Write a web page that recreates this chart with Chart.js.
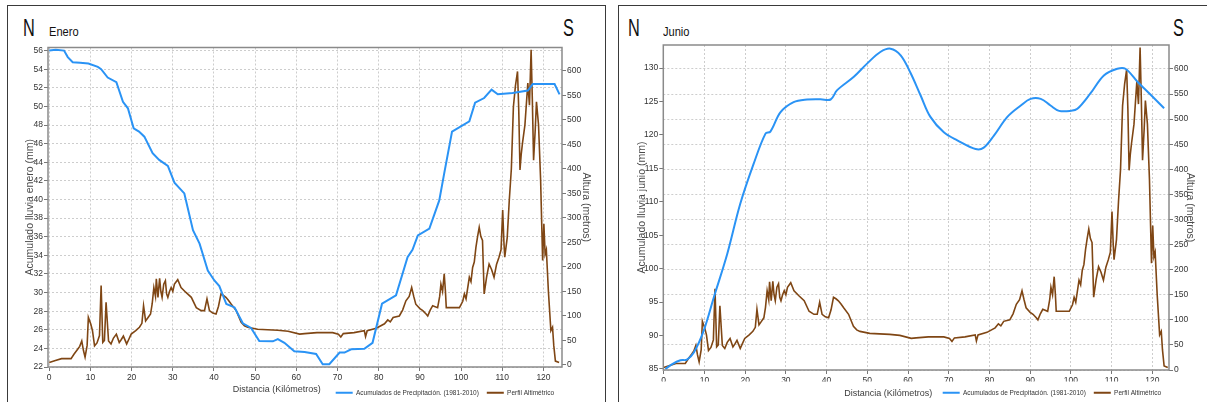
<!DOCTYPE html>
<html>
<head>
<meta charset="utf-8">
<script src="https://cdn.jsdelivr.net/npm/chart.js@4.4.2/dist/chart.umd.min.js"></script>
<style>
  body { margin: 0; width: 1207px; height: 407px; background: #fff; position: relative; overflow: hidden;
         font-family: 'Liberation Sans', Arial, sans-serif; }
  .panel { position: absolute; top: 5px; height: 396px; border: 1.5px solid #3a3a3a; border-bottom: none; }
  .lbl { position: absolute; color: #111; white-space: nowrap; transform-origin: 0 0; }
  .big { font-size: 24px; line-height: 24px; top: 16px; transform: scaleX(0.68); }
  .name { font-size: 13.5px; line-height: 14px; top: 25px; transform: scaleX(0.82); }
  canvas { position: absolute; top: 6px; }
</style>
</head>
<body>
<div class="panel" style="left:7px;width:597px"></div>
<div class="panel" style="left:618px;width:600px"></div>

<span class="lbl big" style="left:23px">N</span>
<span class="lbl name" style="left:49px">Enero</span>
<span class="lbl big" style="left:563px">S</span>

<span class="lbl big" style="left:628px">N</span>
<span class="lbl name" style="left:663px">Junio</span>
<span class="lbl big" style="left:1173px">S</span>

<canvas id="enero" width="596" height="400" style="left:8px"></canvas>
<canvas id="junio" width="588" height="400" style="left:619px"></canvas>

<script>
// perfil altimétrico (km, metros) - same route in both panels
const altKm = [0, 1.5, 3, 5.3, 6, 6.9, 7.4, 7.9, 8.3, 8.7, 9.2, 9.5, 10.1, 10.5, 11, 11.6, 12.2, 12.6, 13, 13.4,
  13.8, 14.4, 15, 15.6, 16.3, 17, 17.5, 18, 18.8, 19.3, 19.9, 21, 21.9, 22.5, 22.9, 23.4, 24, 24.6, 25, 25.4,
  25.8, 26, 26.4, 26.8, 27.1, 27.4, 27.8, 28.2, 28.5, 28.8, 29.2, 29.6, 30, 30.4, 31.2, 32, 33.2, 34.5, 35.7, 36.9,
  37.7, 38.3, 38.9, 39.7, 40.5, 41.1, 41.7, 42.3, 42.9, 43.5, 44.2, 45.4, 46.6, 47.4, 48.2, 50.6, 53, 55.5, 58, 60.8,
  62, 65, 68.8, 70.2, 70.8, 71.4, 74, 76.5, 76.8, 77.2, 79.4, 81.4, 82.2, 82.8, 83.5, 85, 85.8, 86.6, 87.4, 88,
  88.5, 89, 90, 90.7, 91.5, 91.9, 92.5, 93.1, 94.3, 94.8, 95.1, 95.5, 95.9, 96.2, 96.4, 99.6, 100.4, 100.8, 101.2, 102,
  102.4, 102.8, 103.2, 103.6, 104, 104.4, 104.8, 105.2, 105.6, 106.2, 106.8, 107.4, 108, 108.6, 109.2, 109.7, 110.1, 110.4, 110.6, 111.2,
  111.7, 112.2, 112.7, 113.2, 113.7, 114, 114.3, 114.6, 114.9, 115.5, 116.2, 116.6, 117, 117.3, 117.6, 118, 118.3, 118.8, 119.3, 119.8,
  120.1, 120.4, 120.7, 121.2, 121.8, 122.2, 122.5, 122.9, 123.8];
const altM = [5, 9, 13, 13, 22, 32, 38, 49, 30, 16, 40, 97, 83, 70, 39, 45, 60, 162, 46, 50,
  128, 49, 43, 55, 63, 46, 52, 59, 43, 52, 63, 70, 77, 85, 121, 90, 97, 104, 125, 158,
  140, 176, 138, 177, 150, 138, 165, 172, 145, 138, 150, 158, 150, 165, 174, 158, 148, 138, 117, 111,
  111, 135, 111, 106, 104, 120, 145, 142, 138, 132, 124, 111, 87, 80, 77, 73, 72, 71, 69, 63,
  64, 66, 66, 63, 57, 64, 66, 70, 58, 70, 75, 84, 92, 88, 97, 100, 112, 131, 140, 158,
  140, 124, 115, 111, 104, 100, 112, 121, 117, 140, 165, 150, 186, 150, 117, 117, 130, 145, 135, 179,
  170, 199, 210, 240, 262, 281, 262, 254, 145, 180, 206, 195, 179, 205, 220, 235, 316, 250, 220, 260,
  336, 400, 527, 570, 599, 520, 398, 430, 452, 490, 575, 530, 643, 540, 418, 480, 537, 490, 380, 213,
  288, 226, 235, 150, 70, 77, 40, 8, 5];

// acumulado lluvia enero (mm)
const eneroKm = [0, 1.6, 3.6, 4.5, 5.7, 7.5, 9.5, 11.8, 12.6, 14.2, 16.3, 17.9, 19.1, 20.5, 21.8, 23.1, 25.1, 26.7, 28.8, 30.4,
  32.8, 34.9, 36.5, 38.5, 40.1, 41.3, 43, 45, 47, 49, 51, 54.3, 55.5, 57.1, 59.5, 62, 64.8, 66.4, 68, 70.5,
  71.7, 73.3, 76.5, 78.5, 80.8, 84.2, 87, 88.2, 89.5, 92.3, 94.7, 95.9, 97.8, 102, 103.4, 105.6, 107.4, 108.9, 112.5, 116.2,
  117.4, 122.7, 123.9];
const eneroMm = [56, 56.1, 56, 55.3, 54.75, 54.7, 54.6, 54.25, 54, 53.1, 52.6, 50.5, 49.8, 47.65, 47.3, 46.75, 44.97, 44.25, 43.6, 41.8,
  40.65, 36.7, 35.25, 32.37, 31.3, 30.7, 28.77, 28.4, 26.7, 26.2, 24.8, 24.76, 25, 24.6, 23.7, 23.6, 23.4, 22.3, 22.3, 23.55,
  23.55, 23.9, 23.95, 24.6, 28.8, 29.7, 33.8, 34.6, 36.15, 36.87, 39.9, 42.8, 47.3, 48.4, 50.4, 50.9, 51.8, 51.3, 51.45, 51.7,
  52.4, 52.4, 51.3];

// acumulado lluvia junio (mm)
const junioKm = [0.4, 2, 4.1, 5.7, 7.4, 9.8, 12.3, 15.6, 18.8, 22.1, 25, 26.2, 28.7, 31.9, 35.2, 38.5, 41, 42.6, 46.7, 50,
  53.2, 55.7, 58.2, 60.6, 63.1, 65.5, 68.8, 72.1, 76.6, 78.6, 81.1, 84.4, 87.7, 90.1, 92.6, 95, 97.1, 100, 101.6, 104.8,
  108.1, 111.4, 113.4, 116.3, 119.6, 122.9];
const junioMm = [85, 85.7, 86.3, 86.4, 87.45, 90.7, 95.7, 102.2, 109.7, 115.7, 120.2, 120.5, 123.4, 124.9, 125.3, 125.35, 125.3, 126.7, 128.7, 130.7,
  132.4, 132.9, 131.9, 129.3, 125.9, 122.7, 120.4, 119.2, 117.9, 118.1, 119.9, 122.7, 124.4, 125.4, 125.4, 124.4, 123.6, 123.6, 123.9, 126.2,
  128.9, 129.9, 129.9, 128, 126, 124];

// tick labels
const kmTicks = [0, 10, 20, 30, 40, 50, 60, 70, 80, 90, 100, 110, 120];
const altTicks = [0, 50, 100, 150, 200, 250, 300, 350, 400, 450, 500, 550, 600];
const eneroTicks = [22, 24, 26, 28, 30, 32, 34, 36, 38, 40, 42, 44, 46, 48, 50, 52, 54, 56];
const junioTicks = [85, 90, 95, 100, 105, 110, 115, 120, 125, 130];

const seriesNames = ['Acumulados de Precipitación. (1981-2010)', 'Perfil Altimétrico'];
const xTitle = 'Distancia (Kilómetros)';
const rightTitle = 'Altura (metros)';

const BLUE = '#2a93f5';
const BROWN = '#7f4614';
const SANS = "'Liberation Sans', Arial, sans-serif";

const toPoints = (xs, ys) => xs.map((x, i) => ({ x, y: ys[i] }));
const profile = toPoints(altKm, altM);
const fixedTicks = values => scale => { scale.ticks = values.map(value => ({ value })); };

const frame = {
  id: 'frame',
  afterDatasetsDraw(chart) {
    const { ctx, chartArea: a } = chart;
    ctx.save();
    ctx.strokeStyle = '#8a8a8a';
    ctx.lineWidth = 1.5;
    ctx.strokeRect(a.left, a.top, a.right - a.left, a.bottom - a.top);
    ctx.restore();
  }
};

// x axis title sits left of the legend, on the same row
const bottomTitle = {
  id: 'bottomTitle',
  afterDraw(chart, args, opts) {
    const { ctx, chartArea: a } = chart;
    ctx.save();
    ctx.font = `9px ${SANS}`;
    ctx.fillStyle = '#3c3c3c';
    ctx.textAlign = 'center';
    ctx.textBaseline = 'middle';
    ctx.fillText(opts.text, a.left + (a.right - a.left) * 0.445, a.bottom + opts.offset);
    ctx.restore();
  }
};

const tickFont = { family: SANS, size: 8.5 };

function makeChart(id, cfg) {
  return new Chart(document.getElementById(id), {
    type: 'line',
    data: {
      datasets: [{
        label: seriesNames[0],
        data: toPoints(cfg.km, cfg.mm),
        yAxisID: 'y',
        borderColor: BLUE,
        backgroundColor: BLUE,
        borderWidth: 2,
        pointRadius: 0,
        tension: cfg.tension
      }, {
        label: seriesNames[1],
        data: profile,
        yAxisID: 'y1',
        borderColor: BROWN,
        backgroundColor: BROWN,
        borderWidth: 1.6,
        pointRadius: 0,
        tension: 0
      }]
    },
    plugins: [frame, bottomTitle],
    options: {
      responsive: false,
      animation: false,
      layout: { padding: { top: cfg.top, left: 0, right: 0, bottom: 0 } },
      plugins: {
        legend: {
          position: 'bottom',
          align: 'end',
          fullSize: false,
          labels: {
            boxWidth: 17,
            boxHeight: 2,
            padding: 8,
            color: '#333',
            font: { family: SANS, size: 6.5 },
            generateLabels: chart => Chart.defaults.plugins.legend.labels.generateLabels(chart)
              .map(l => ({ ...l, lineWidth: 0, fillStyle: l.strokeStyle }))
          }
        },
        tooltip: { enabled: false },
        bottomTitle: { text: xTitle, offset: cfg.titleOffset }
      },
      scales: {
        x: {
          type: 'linear',
          min: cfg.xMin,
          max: cfg.xMax,
          afterBuildTicks: fixedTicks(kmTicks),
          afterFit: s => { s.height = cfg.xHeight; },
          ticks: { maxRotation: 0, autoSkip: false, padding: 2, color: '#333', font: tickFont },
          grid: { color: '#cdcdcd', tickColor: '#777', tickLength: 4 },
          border: { display: false, dash: [2, 2] }
        },
        y: {
          position: 'left',
          min: cfg.yMin,
          max: cfg.yMax,
          afterBuildTicks: fixedTicks(cfg.yTicks),
          afterFit: s => { s.width = cfg.yWidth; },
          ticks: { autoSkip: false, padding: 1, color: '#333', font: tickFont },
          grid: { drawOnChartArea: cfg.gridLeft, color: '#cdcdcd', tickColor: '#777', tickLength: 4 },
          border: { display: false, dash: [2, 2] },
          title: { display: true, text: cfg.leftTitle, color: '#4a4a4a', font: { family: SANS, size: 10.5 }, padding: { top: cfg.leftPad, bottom: 0 } }
        },
        y1: {
          position: 'right',
          min: cfg.y1Min,
          max: cfg.y1Max,
          afterBuildTicks: fixedTicks(altTicks),
          afterFit: s => { s.width = cfg.y1Width; },
          ticks: { autoSkip: false, padding: 1, color: '#333', font: tickFont },
          grid: { drawOnChartArea: !cfg.gridLeft, color: '#cdcdcd', tickColor: '#777', tickLength: 4 },
          border: { display: false, dash: [2, 2] },
          title: { display: true, text: rightTitle, color: '#4a4a4a', font: { family: SANS, size: 10.5 }, padding: { top: cfg.rightPad, bottom: 0 } }
        }
      }
    }
  });
}

makeChart('enero', {
  km: eneroKm, mm: eneroMm, tension: 0,
  top: 41.5, xHeight: 14.5, yWidth: 40, y1Width: 42,
  xMin: -0.3, xMax: 124.5,
  yMin: 22, yMax: 56.33, yTicks: eneroTicks,
  y1Min: -4.1, y1Max: 647.8,
  gridLeft: true,
  leftTitle: 'Acumulado lluvia enero (mm)', leftPad: 16, rightPad: 11.4,
  titleOffset: 23
});

makeChart('junio', {
  km: junioKm, mm: junioMm, tension: 0.35,
  top: 39, xHeight: 11.5, yWidth: 44.3, y1Width: 38,
  xMin: -0.1, xMax: 124.1,
  yMin: 84.85, yMax: 133.45, yTicks: junioTicks,
  y1Min: 0, y1Max: 647.8,
  gridLeft: false,
  leftTitle: 'Acumulado lluvia junio (mm)', leftPad: 17, rightPad: 10.4,
  titleOffset: 24
});
</script>
</body>
</html>
